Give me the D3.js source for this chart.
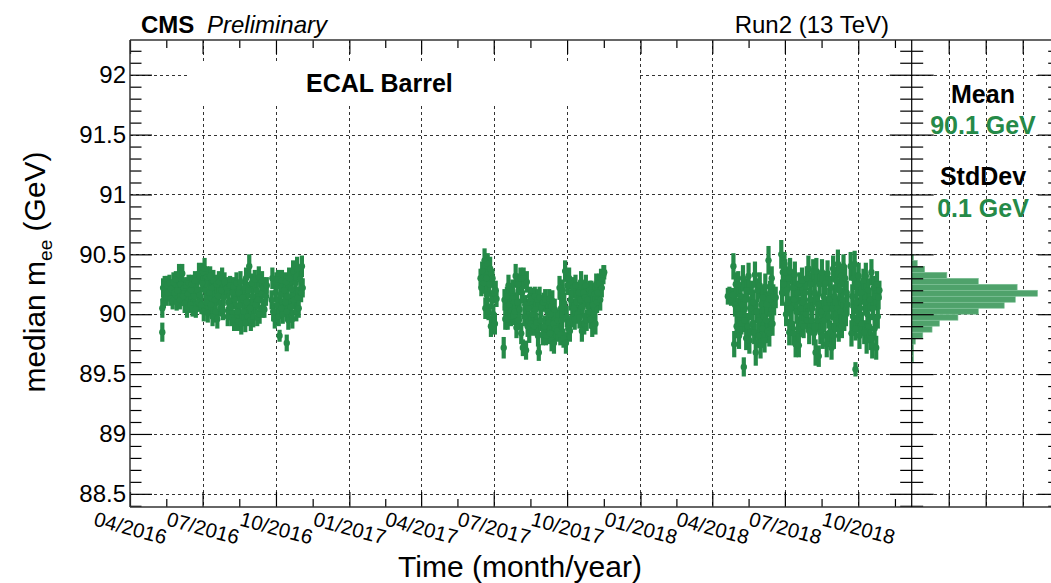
<!DOCTYPE html>
<html>
<head>
<meta charset="utf-8">
<script src="https://cdn.jsdelivr.net/npm/d3@7"></script>
<style>
  body { margin: 0; background: #fff; }
  svg { display: block; }
  text { font-family: "Liberation Sans", Arial, Helvetica, sans-serif; }
</style>
</head>
<body>
<svg id="chart" width="1051" height="583"></svg>
<script>
// ---- axis ticks -----------------------------------------------------------
const xTickDates = ["2016-04-01", "2016-07-01", "2016-10-01", "2017-01-01", "2017-04-01",
  "2017-07-01", "2017-10-01", "2018-01-01", "2018-04-01", "2018-07-01", "2018-10-01"];
const yTickValues = [88.5, 89, 89.5, 90, 90.5, 91, 91.5, 92];
const yTickLabels = ["88.5", "89", "89.5", "90", "90.5", "91", "91.5", "92"];

// ---- projected distribution of the run medians (bin low edge, GeV) ---------
const histBinLow = [89.60, 89.65, 89.70, 89.75, 89.80, 89.85, 89.90, 89.95, 90.00,
  90.05, 90.10, 90.15, 90.20, 90.25, 90.30, 90.35, 90.40, 90.45];
const histCounts = [1, 1, 1, 2, 6, 11, 15, 25, 36, 50, 56, 68, 57, 36, 19, 7, 3, 1];
const histBinWidth = 0.05;
const histCountTicks = [20, 40, 60];

// ---- median m_ee per run: [day of year (0 = 1 Jan), median, error] ---------
const runs2016 = [
  [131, 89.85, 0.08], [131, 90.05, 0.08], [132, 90.22, 0.08], [133, 90.12, 0.07], [134, 90.25, 0.07],
  [136, 90.14, 0.07], [137, 90.24, 0.08], [138, 90.18, 0.06], [140, 90.26, 0.07], [141, 90.13, 0.06], [142, 90.21, 0.08],
  [144, 90.11, 0.07], [145, 90.27, 0.08], [146, 90.18, 0.07], [148, 90.29, 0.07], [149, 90.10, 0.07], [150, 90.20, 0.08],
  [152, 90.33, 0.09], [153, 90.12, 0.08], [154, 90.25, 0.07], [156, 90.34, 0.08], [157, 90.15, 0.08],
  [158, 90.22, 0.08], [159, 90.09, 0.08], [161, 90.24, 0.07],
  [162, 90.05, 0.08], [163, 90.17, 0.07], [164, 90.26, 0.07], [166, 90.08, 0.07], [167, 90.20, 0.08], [168, 90.25, 0.08], [169, 90.05, 0.07],
  [171, 90.15, 0.08], [172, 90.28, 0.08], [173, 90.04, 0.07], [175, 90.20, 0.07], [176, 90.10, 0.08],
  [177, 90.34, 0.09], [178, 90.16, 0.07], [180, 90.08, 0.08], [181, 90.26, 0.08], [182, 90.35, 0.08],
  [183, 90.02, 0.08], [184, 90.38, 0.09], [185, 90.20, 0.08], [186, 90.10, 0.07],
  [187, 90.31, 0.09], [188, 90.01, 0.08], [190, 90.18, 0.08], [191, 90.32, 0.08], [192, 90.08, 0.08], [193, 90.22, 0.07],
  [194, 89.98, 0.08], [195, 90.28, 0.09], [197, 90.12, 0.08], [198, 90.02, 0.09], [199, 90.25, 0.08],
  [200, 89.96, 0.08], [201, 90.15, 0.08], [202, 90.27, 0.09], [204, 90.05, 0.07], [205, 90.20, 0.08],
  [206, 90.30, 0.09], [207, 90.03, 0.08], [208, 90.14, 0.07], [209, 90.27, 0.08],
  [212, 90.22, 0.09], [213, 89.98, 0.08], [214, 90.10, 0.07], [216, 90.24, 0.08], [217, 90.06, 0.08], [218, 89.97, 0.07], [219, 90.18, 0.08], [220, 90.23, 0.08],
  [221, 89.95, 0.09], [222, 90.12, 0.08], [224, 90.26, 0.09], [225, 90.02, 0.08], [226, 89.94, 0.08], [227, 90.18, 0.07], [228, 90.07, 0.08],
  [229, 90.27, 0.09], [230, 89.92, 0.09], [232, 90.14, 0.08], [233, 90.02, 0.08], [234, 90.22, 0.08],
  [235, 89.93, 0.08], [236, 90.30, 0.09], [237, 90.10, 0.08], [238, 89.98, 0.08], [239, 90.20, 0.07],
  [240, 90.40, 0.10], [241, 90.05, 0.08], [242, 89.95, 0.09], [243, 90.26, 0.08],
  [244, 90.15, 0.09], [245, 89.98, 0.09], [247, 90.29, 0.08], [248, 90.08, 0.08], [249, 90.20, 0.08], [250, 89.97, 0.07], [251, 90.12, 0.08],
  [252, 90.31, 0.09], [253, 90.00, 0.08], [255, 90.17, 0.08], [256, 90.28, 0.08], [257, 90.05, 0.08],
  [258, 90.22, 0.09], [259, 90.04, 0.07], [261, 90.15, 0.08], [262, 90.24, 0.07],
  [268, 90.12, 0.08], [269, 90.30, 0.09], [270, 90.02, 0.08], [272, 89.96, 0.08], [273, 90.18, 0.08], [274, 90.27, 0.08],
  [275, 90.07, 0.08], [276, 90.29, 0.08], [277, 89.98, 0.08], [278, 89.82, 0.05], [279, 90.16, 0.08], [280, 90.05, 0.08],
  [281, 90.28, 0.09], [282, 90.00, 0.08], [284, 90.20, 0.08], [285, 90.10, 0.08], [286, 90.27, 0.08], [287, 89.76, 0.07], [287, 90.02, 0.08],
  [288, 90.15, 0.09], [289, 89.95, 0.08], [290, 90.30, 0.09], [292, 90.06, 0.08], [293, 90.21, 0.08],
  [294, 89.96, 0.08], [295, 90.36, 0.09], [296, 90.12, 0.08], [298, 90.26, 0.09], [299, 90.02, 0.08],
  [300, 90.38, 0.10], [301, 90.14, 0.09], [302, 90.05, 0.08], [304, 90.29, 0.09], [305, 90.18, 0.08], [306, 90.40, 0.09], [307, 90.22, 0.08]
];

const runs2017 = [
  [164, 90.30, 0.08], [165, 90.22, 0.07], [166, 90.36, 0.08], [168, 90.26, 0.09],
  [169, 90.45, 0.10], [170, 90.05, 0.09], [171, 90.30, 0.08], [172, 90.16, 0.08], [173, 90.42, 0.09], [174, 90.02, 0.07],
  [175, 90.25, 0.09], [176, 90.38, 0.10], [177, 89.90, 0.09], [178, 90.12, 0.08], [179, 90.30, 0.08], [180, 90.00, 0.08],
  [181, 90.18, 0.09], [182, 89.92, 0.09], [183, 90.20, 0.08], [184, 90.13, 0.07],
  [193, 89.72, 0.09],
  [194, 90.12, 0.09], [195, 89.96, 0.09], [196, 90.06, 0.08], [197, 90.15, 0.08],
  [198, 89.96, 0.09], [199, 90.24, 0.09], [200, 90.08, 0.08], [202, 89.98, 0.08], [203, 90.18, 0.08],
  [204, 90.20, 0.09], [205, 89.99, 0.08], [206, 90.10, 0.08], [207, 90.02, 0.08],
  [208, 90.32, 0.10], [209, 89.89, 0.09], [210, 90.10, 0.09], [211, 90.25, 0.09], [212, 89.95, 0.08], [213, 90.04, 0.09], [214, 90.30, 0.09],
  [215, 89.84, 0.09], [216, 90.18, 0.09], [217, 89.72, 0.07], [218, 90.30, 0.09], [219, 89.98, 0.08], [220, 90.08, 0.08],
  [221, 89.70, 0.08], [222, 90.27, 0.09], [223, 89.90, 0.09], [224, 90.05, 0.08], [225, 89.84, 0.08], [226, 90.15, 0.08],
  [227, 89.92, 0.09], [228, 90.13, 0.09], [229, 90.00, 0.08], [231, 89.90, 0.08], [232, 90.15, 0.08], [233, 90.04, 0.09], [234, 89.93, 0.08], [235, 90.12, 0.09],
  [236, 89.82, 0.09], [237, 89.68, 0.07], [238, 90.14, 0.09], [239, 89.95, 0.09], [240, 90.06, 0.08], [242, 89.83, 0.09], [243, 90.10, 0.08],
  [244, 89.90, 0.09], [245, 90.12, 0.09], [246, 89.82, 0.08], [248, 90.02, 0.08], [249, 89.93, 0.09], [250, 90.13, 0.08], [251, 89.84, 0.09],
  [252, 90.00, 0.09], [253, 89.78, 0.09], [254, 90.11, 0.09], [255, 89.92, 0.08], [256, 89.76, 0.09], [257, 90.04, 0.09], [258, 89.88, 0.08],
  [260, 89.86, 0.09], [261, 89.95, 0.09],
  [263, 90.22, 0.10], [264, 89.83, 0.09], [265, 90.05, 0.09], [266, 89.95, 0.08], [267, 90.20, 0.09], [268, 89.80, 0.08],
  [269, 90.09, 0.09], [270, 90.36, 0.09], [271, 89.76, 0.09], [272, 89.98, 0.09], [273, 90.24, 0.08], [274, 89.88, 0.09],
  [275, 90.30, 0.09], [276, 89.86, 0.09], [277, 90.12, 0.09], [279, 89.97, 0.08], [280, 90.22, 0.09], [281, 90.05, 0.08],
  [282, 89.96, 0.09], [283, 90.24, 0.09], [284, 90.10, 0.08], [286, 90.00, 0.08], [287, 90.18, 0.09], [288, 89.97, 0.09], [289, 90.12, 0.08],
  [290, 90.27, 0.09], [291, 89.86, 0.09], [292, 90.06, 0.09], [293, 90.18, 0.09], [294, 89.92, 0.09], [295, 90.14, 0.08],
  [296, 90.24, 0.09], [297, 89.95, 0.09], [298, 90.12, 0.08], [300, 90.02, 0.09], [301, 90.20, 0.08], [302, 89.96, 0.08],
  [303, 90.18, 0.10], [304, 89.90, 0.09], [305, 90.08, 0.08], [306, 90.00, 0.09], [307, 90.17, 0.09], [308, 89.92, 0.09],
  [309, 90.25, 0.09], [310, 90.10, 0.09], [311, 90.18, 0.08], [313, 90.26, 0.08], [314, 90.12, 0.09],
  [315, 90.30, 0.08], [316, 90.22, 0.08], [318, 90.33, 0.08], [319, 90.35, 0.06]
];

const runs2018 = [
  [109, 90.15, 0.07], [111, 90.17, 0.06], [113, 90.14, 0.07], [115, 90.16, 0.06],
  [116, 90.40, 0.11], [117, 89.75, 0.11], [118, 90.08, 0.10], [119, 90.25, 0.10], [120, 89.90, 0.10], [121, 90.05, 0.09],
  [122, 90.25, 0.11], [123, 89.82, 0.11], [124, 90.00, 0.10], [125, 90.15, 0.10], [126, 89.92, 0.09], [127, 90.08, 0.09],
  [128, 90.30, 0.11], [129, 89.56, 0.08], [130, 89.95, 0.10], [131, 90.12, 0.10], [132, 89.80, 0.10], [133, 90.20, 0.10],
  [134, 89.90, 0.11], [135, 90.32, 0.11], [136, 89.78, 0.11], [137, 90.05, 0.10], [139, 90.18, 0.10], [140, 89.92, 0.10], [141, 90.10, 0.10], [142, 89.85, 0.10],
  [143, 90.33, 0.11], [144, 89.68, 0.11], [145, 90.02, 0.10], [146, 90.20, 0.10], [147, 89.82, 0.10], [148, 89.95, 0.10],
  [149, 90.24, 0.11], [150, 89.74, 0.11], [151, 90.08, 0.10], [152, 89.88, 0.10], [153, 90.14, 0.10], [154, 89.98, 0.10],
  [155, 89.78, 0.10], [156, 90.23, 0.11], [157, 89.95, 0.10], [158, 90.08, 0.10], [159, 89.86, 0.10],
  [160, 90.45, 0.12], [161, 89.84, 0.11], [162, 90.18, 0.10], [163, 90.00, 0.10], [164, 90.30, 0.10], [165, 89.92, 0.10],
  [166, 90.15, 0.10], [167, 90.08, 0.09], [169, 90.14, 0.09],
  [176, 90.50, 0.12], [177, 90.18, 0.11], [178, 90.35, 0.10], [179, 90.25, 0.10], [180, 90.42, 0.10],
  [181, 90.35, 0.11], [182, 90.00, 0.10], [183, 90.20, 0.10], [184, 90.10, 0.10], [185, 90.30, 0.10],
  [186, 89.85, 0.11], [187, 90.36, 0.11], [188, 90.05, 0.10], [189, 89.92, 0.10], [190, 90.22, 0.10], [191, 89.84, 0.10], [192, 90.12, 0.10],
  [193, 90.33, 0.11], [194, 89.75, 0.11], [195, 90.02, 0.10], [196, 90.18, 0.10], [197, 89.88, 0.10], [198, 89.74, 0.10], [199, 90.25, 0.10], [200, 90.05, 0.10],
  [201, 89.92, 0.11], [202, 90.28, 0.11], [203, 90.10, 0.10], [204, 89.90, 0.10], [206, 90.18, 0.10], [207, 90.00, 0.10], [208, 90.30, 0.10], [209, 89.95, 0.10],
  [210, 90.38, 0.11], [211, 89.86, 0.11], [212, 90.12, 0.10], [213, 90.25, 0.10], [214, 89.95, 0.10], [215, 90.05, 0.10], [216, 90.36, 0.10], [217, 89.84, 0.10],
  [218, 90.18, 0.11], [219, 89.68, 0.11], [220, 90.36, 0.11], [221, 89.95, 0.10], [222, 90.08, 0.10], [223, 89.65, 0.09], [224, 90.25, 0.10], [225, 89.85, 0.10], [226, 90.02, 0.10],
  [227, 90.35, 0.11], [228, 89.82, 0.11], [229, 90.15, 0.10], [230, 89.95, 0.10], [231, 90.26, 0.10], [232, 90.05, 0.10],
  [233, 89.75, 0.11], [234, 90.34, 0.11], [235, 89.98, 0.10], [236, 90.12, 0.10], [237, 89.85, 0.10], [238, 90.22, 0.10], [239, 89.72, 0.10], [240, 90.05, 0.10],
  [241, 90.38, 0.11], [242, 89.82, 0.11], [243, 90.15, 0.10], [244, 89.95, 0.10], [245, 90.28, 0.10], [246, 90.05, 0.10],
  [247, 90.42, 0.12], [248, 89.88, 0.11], [249, 90.20, 0.10], [250, 90.02, 0.10], [251, 90.32, 0.10], [252, 89.90, 0.10], [253, 90.12, 0.10], [254, 90.40, 0.10], [255, 89.96, 0.10],
  [256, 90.30, 0.11], [257, 90.00, 0.10], [258, 90.18, 0.10], [259, 90.08, 0.09],
  [263, 90.40, 0.12], [264, 89.84, 0.11], [265, 90.15, 0.10], [266, 89.98, 0.10], [267, 90.30, 0.10],
  [268, 90.42, 0.11], [269, 89.54, 0.06], [269, 89.88, 0.10], [270, 90.10, 0.10], [271, 90.25, 0.10], [272, 89.95, 0.10],
  [273, 90.32, 0.11], [274, 89.82, 0.11], [275, 90.05, 0.10], [276, 90.18, 0.10], [277, 89.92, 0.10], [279, 90.28, 0.10], [280, 89.85, 0.10],
  [281, 90.10, 0.11], [282, 90.32, 0.11], [283, 89.78, 0.11], [284, 90.00, 0.10], [285, 90.20, 0.10], [286, 89.90, 0.10], [287, 90.12, 0.10], [288, 89.80, 0.10],
  [289, 90.35, 0.11], [290, 89.74, 0.11], [291, 90.05, 0.10], [292, 90.22, 0.10], [293, 89.88, 0.10], [294, 90.15, 0.10], [295, 89.72, 0.10],
  [296, 90.25, 0.11], [297, 89.98, 0.10], [298, 90.14, 0.10], [299, 90.20, 0.08]
];

// ---- layout ---------------------------------------------------------------
const W = 1051, H = 583;
const frame = { left: 130, right: 911.7, top: 40, bottom: 507 };
const histPad = { left: 911.7, right: 1059.7 };
const GREEN = "#258a48";
const HIST_FILL = "#4fa26b";

const svg = d3.select("#chart");
svg.append("rect").attr("width", W).attr("height", H).attr("fill", "#fff");

const x = d3.scaleUtc()
  .domain([new Date("2016-04-01T00:00:00Z"), new Date("2018-12-07T00:00:00Z")])
  .range([frame.left, frame.right]);
const y = d3.scaleLinear().domain([88.39, 92.29]).range([frame.bottom, frame.top]);
const hx = d3.scaleLinear().domain([0, 80]).range([histPad.left, histPad.right]);

const majorDates = xTickDates.map(s => new Date(s + "T00:00:00Z"));
const minorDates = majorDates.slice(1).map((d, i) => new Date((+d + +majorDates[i]) / 2));
minorDates.push(new Date(+majorDates[majorDates.length - 1] +
  (majorDates[majorDates.length - 1] - majorDates[majorDates.length - 2]) / 2));
const yMinor = d3.range(884, 923).map(i => i / 10).filter(v => !yTickValues.some(t => Math.abs(t - v) < 1e-6));

// ---- grids ----------------------------------------------------------------
const grid = svg.append("g").attr("stroke", "#333").attr("stroke-width", 1)
  .attr("stroke-dasharray", "3,3").attr("fill", "none");
grid.selectAll(".vg").data(majorDates.slice(1)).join("line")
  .attr("x1", d => Math.round(x(d)) + 0.5).attr("x2", d => Math.round(x(d)) + 0.5)
  .attr("y1", frame.top).attr("y2", frame.bottom);
grid.selectAll(".hg").data(yTickValues).join("line")
  .attr("x1", frame.left).attr("x2", histPad.right)
  .attr("y1", d => Math.round(y(d)) + 0.5).attr("y2", d => Math.round(y(d)) + 0.5);
grid.selectAll(".hvg").data(histCountTicks).join("line")
  .attr("x1", d => Math.round(hx(d)) + 0.5).attr("x2", d => Math.round(hx(d)) + 0.5)
  .attr("y1", frame.top).attr("y2", frame.bottom);

// label box behind the detector name
svg.append("rect").attr("x", 190).attr("y", 63).attr("width", 450).attr("height", 42).attr("fill", "#fff");

// ---- run medians with errors ----------------------------------------------
const runs = [];
[[2016, runs2016], [2017, runs2017], [2018, runs2018]].forEach(([yr, arr]) => {
  arr.forEach(([doy, m, e]) => runs.push({ t: new Date(Date.UTC(yr, 0, 1) + (doy + 0.5) * 864e5), m, e }));
});
const pts = svg.append("g");
pts.selectAll("line").data(runs).join("line")
  .attr("x1", d => x(d.t)).attr("x2", d => x(d.t))
  .attr("y1", d => y(d.m + d.e)).attr("y2", d => y(d.m - d.e))
  .attr("stroke", GREEN).attr("stroke-width", 4.2);
pts.selectAll("circle").data(runs).join("circle")
  .attr("cx", d => x(d.t)).attr("cy", d => y(d.m)).attr("r", 3.2).attr("fill", GREEN);

// ---- projected histogram --------------------------------------------------
svg.append("g").selectAll("rect").data(histBinLow.map((lo, i) => ({ lo, n: histCounts[i] }))).join("rect")
  .attr("x", hx(0)).attr("width", d => hx(d.n) - hx(0))
  .attr("y", d => y(d.lo + histBinWidth)).attr("height", d => y(d.lo) - y(d.lo + histBinWidth))
  .attr("fill", HIST_FILL).attr("stroke", "#7cc096").attr("stroke-width", 0.6);

// ---- axes -----------------------------------------------------------------
function styleAxis(g) {
  g.selectAll(".tick line").attr("stroke", "#000").attr("stroke-width", 1.2);
  g.select(".domain").remove();
}
// left (main)
svg.append("g").attr("transform", `translate(${frame.left},0)`)
  .call(d3.axisLeft(y).tickValues(yTickValues).tickFormat((d, i) => yTickLabels[i]).tickSize(-22).tickPadding(4))
  .call(styleAxis)
  .call(g => g.selectAll("text").attr("font-size", 24).attr("fill", "#000")
    .attr("font-family", '"Liberation Sans", Arial, sans-serif').attr("x", -4));
svg.append("g").attr("transform", `translate(${frame.left},0)`)
  .call(d3.axisLeft(y).tickValues(yMinor).tickFormat("").tickSize(-11.5)).call(styleAxis);

// bottom (main)
svg.append("g").attr("transform", `translate(0,${frame.bottom})`)
  .call(d3.axisBottom(x).tickValues(majorDates).tickFormat(d3.utcFormat("%m/%Y")).tickSize(-15))
  .call(styleAxis)
  .call(g => g.selectAll("text")
    .attr("font-size", 20.5).attr("fill", "#000").attr("font-family", '"Liberation Sans", Arial, sans-serif')
    .attr("x", 0).attr("y", 0).attr("dy", "0.35em").attr("text-anchor", "middle")
    .attr("transform", "translate(0,21) rotate(15)"));
svg.append("g").attr("transform", `translate(0,${frame.bottom})`)
  .call(d3.axisBottom(x).tickValues(minorDates).tickFormat("").tickSize(-8)).call(styleAxis);

// top (main)
svg.append("g").attr("transform", `translate(0,${frame.top})`)
  .call(d3.axisTop(x).tickValues(majorDates).tickFormat("").tickSize(-14)).call(styleAxis);
svg.append("g").attr("transform", `translate(0,${frame.top})`)
  .call(d3.axisTop(x).tickValues(minorDates).tickFormat("").tickSize(-8)).call(styleAxis);

// histogram pad: vertical axes with ticks on both sides
[histPad.left, histPad.right].forEach(px => {
  svg.append("g").attr("transform", `translate(${px},0)`)
    .call(d3.axisLeft(y).tickValues(yTickValues).tickFormat("").tickSize(22)).call(styleAxis);
  svg.append("g").attr("transform", `translate(${px},0)`)
    .call(d3.axisRight(y).tickValues(yTickValues).tickFormat("").tickSize(22)).call(styleAxis);
  svg.append("g").attr("transform", `translate(${px},0)`)
    .call(d3.axisLeft(y).tickValues(yMinor).tickFormat("").tickSize(11.5)).call(styleAxis);
  svg.append("g").attr("transform", `translate(${px},0)`)
    .call(d3.axisRight(y).tickValues(yMinor).tickFormat("").tickSize(11.5)).call(styleAxis);
});
svg.append("g").attr("transform", `translate(0,${frame.top})`)
  .call(d3.axisTop(hx).tickValues(histCountTicks).tickFormat("").tickSize(-14)).call(styleAxis);
svg.append("g").attr("transform", `translate(0,${frame.bottom})`)
  .call(d3.axisBottom(hx).tickValues(histCountTicks).tickFormat("").tickSize(-14)).call(styleAxis);

// frame lines
const fr = svg.append("g").attr("stroke", "#333").attr("stroke-width", 1.5);
fr.append("line").attr("x1", frame.left).attr("x2", W).attr("y1", frame.top).attr("y2", frame.top);
fr.append("line").attr("x1", frame.left).attr("x2", W).attr("y1", frame.bottom).attr("y2", frame.bottom);
fr.append("line").attr("x1", frame.left).attr("x2", frame.left).attr("y1", frame.top).attr("y2", frame.bottom);
fr.append("line").attr("x1", histPad.left).attr("x2", histPad.left).attr("y1", frame.top).attr("y2", frame.bottom)
  .attr("stroke", "#000").attr("stroke-width", 1.2);

// ---- texts ----------------------------------------------------------------
svg.append("text").attr("x", 141).attr("y", 33).attr("font-size", 24).attr("font-weight", "bold").text("CMS");
svg.append("text").attr("x", 207).attr("y", 33).attr("font-size", 24).attr("font-style", "italic").text("Preliminary");
svg.append("text").attr("x", 889).attr("y", 33).attr("font-size", 24).attr("text-anchor", "end").text("Run2 (13 TeV)");
svg.append("text").attr("x", 306).attr("y", 92).attr("font-size", 25).attr("font-weight", "bold").text("ECAL Barrel");

const stats = [["Mean", 103, "#000"], ["90.1 GeV", 134, GREEN], ["StdDev", 185, "#000"], ["0.1 GeV", 217, GREEN]];
svg.append("g").selectAll("text").data(stats).join("text")
  .attr("x", 983).attr("y", d => d[1]).attr("text-anchor", "middle")
  .attr("font-size", 25).attr("font-weight", "bold").attr("fill", d => d[2]).text(d => d[0]);

const yt = svg.append("text").attr("transform", "translate(45,272) rotate(-90)")
  .attr("text-anchor", "middle").attr("font-size", 30);
yt.append("tspan").text("median m");
yt.append("tspan").attr("font-size", 19).attr("dy", 7).text("ee");
yt.append("tspan").attr("dy", -7).text(" (GeV)");

svg.append("text").attr("x", 520).attr("y", 577).attr("text-anchor", "middle").attr("font-size", 30)
  .text("Time (month/year)");
</script>
</body>
</html>
